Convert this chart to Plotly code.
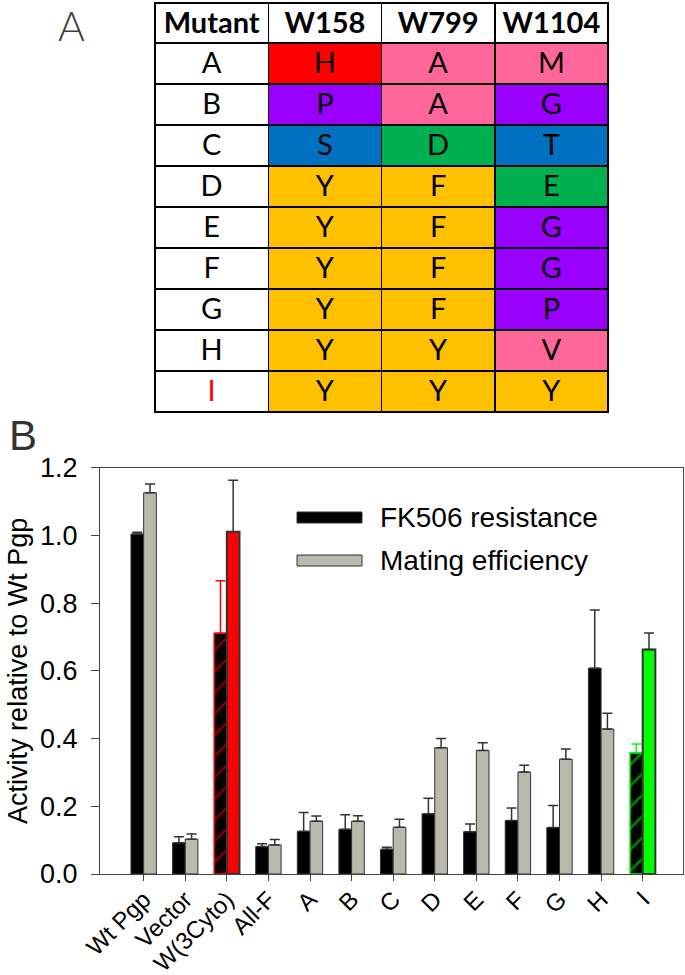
import plotly.graph_objects as go

# ---------------- Panel A data ----------------
mutants = ["A", "B", "C", "D", "E", "F", "G", "H", "I"]
w158 = ["H", "P", "S", "Y", "Y", "Y", "Y", "Y", "Y"]
w799 = ["A", "A", "D", "F", "F", "F", "F", "Y", "Y"]
w1104 = ["M", "G", "T", "E", "G", "G", "P", "V", "Y"]
table_header = ["Mutant", "W158", "W799", "W1104"]

# ---------------- Panel B data ----------------
categories = ["Wt Pgp", "Vector", "W(3Cyto)", "All-F", "A", "B", "C", "D", "E", "F", "G", "H", "I"]
fk506 = [1.004, 0.092, 0.711, 0.081, 0.126, 0.132, 0.073, 0.178, 0.125, 0.158, 0.137, 0.608, 0.358]
fk506_err = [0.005, 0.018, 0.155, 0.008, 0.056, 0.043, 0.006, 0.046, 0.023, 0.037, 0.065, 0.172, 0.026]
mating = [1.126, 0.103, 1.011, 0.086, 0.156, 0.156, 0.138, 0.373, 0.365, 0.301, 0.339, 0.428, 0.663]
mating_err = [0.026, 0.015, 0.152, 0.016, 0.015, 0.016, 0.024, 0.027, 0.023, 0.020, 0.030, 0.047, 0.049]
yticks = [0.0, 0.2, 0.4, 0.6, 0.8, 1.0, 1.2]

# ---------------- styles ----------------
res_color = {"H": "#FF0000", "A": "#FF6699", "M": "#FF6699", "V": "#FF6699",
             "P": "#9900FF", "G": "#9900FF", "S": "#0070C0", "T": "#0070C0",
             "D": "#00B050", "E": "#00B050", "Y": "#FFC000", "F": "#FFC000"}
BLACK = "#000000"
GRAY = "#b9b9ad"
EDGE = "#333333"
special = {"W(3Cyto)": "#FF0000", "I": "#00FF00"}

fig = go.Figure()

# Table (panel A)
fig.add_trace(go.Table(
    domain=dict(x=[(155 - 100) / 583, (608 - 100) / 583], y=[0.515, 1 - 3 / 874]),
    columnwidth=[1, 1, 1, 1],
    header=dict(values=table_header,
                fill_color="white", line=dict(color="black", width=1.5),
                align="center", height=40,
                font=dict(family="Lato", size=29, color="black", weight="bold")),
    cells=dict(values=[mutants, w158, w799, w1104],
               fill_color=[["white"] * len(mutants),
                           [res_color[r] for r in w158],
                           [res_color[r] for r in w799],
                           [res_color[r] for r in w1104]],
               line=dict(color="black", width=1.5),
               align="center", height=41,
               font=dict(family="Lato", size=29,
                         color=[["#FF0000" if m == "I" else "black" for m in mutants],
                                ["black"] * 9, ["black"] * 9, ["black"] * 9])),
))

# Bars (panel B)
idx_main = [i for i, c in enumerate(categories) if c not in special]
fig.add_trace(go.Bar(
    x=[categories[i] for i in idx_main], y=[fk506[i] for i in idx_main],
    offsetgroup="fk", name="FK506 resistance", showlegend=False,
    marker=dict(color=BLACK, line=dict(color=EDGE, width=1)),
    error_y=dict(type="data", symmetric=False,
                 array=[fk506_err[i] for i in idx_main], arrayminus=[0] * len(idx_main),
                 color=EDGE, thickness=1.5, width=5),
))
for cat, col in special.items():
    i = categories.index(cat)
    fig.add_trace(go.Bar(
        x=[cat], y=[fk506[i]], offsetgroup="fk", showlegend=False,
        marker=dict(color=BLACK, line=dict(color=col, width=1.5),
                    pattern=dict(shape="/", fgcolor=col, bgcolor=BLACK, size=15, solidity=0.18)),
        error_y=dict(type="data", symmetric=False, array=[fk506_err[i]], arrayminus=[0],
                     color=col, thickness=1.5, width=5),
    ))

fig.add_trace(go.Bar(
    x=categories, y=mating, offsetgroup="me", name="Mating efficiency", showlegend=False,
    marker=dict(color=[special.get(c, GRAY) for c in categories],
                line=dict(color=EDGE, width=[2 if c in special else 1 for c in categories])),
    error_y=dict(type="data", symmetric=False, array=mating_err, arrayminus=[0] * len(mating),
                 color=EDGE, thickness=1.5, width=5),
))

fig.update_layout(
    width=685, height=975,
    margin=dict(l=100, r=2, t=0, b=101),
    paper_bgcolor="white", plot_bgcolor="white",
    barmode="group", bargap=0.39, bargroupgap=0,
    font=dict(family="Liberation Sans, Arial", color="black"),
    showlegend=False,
    xaxis=dict(type="category", categoryorder="array", categoryarray=categories,
               range=[-1.05, 12.97], showline=True, linecolor="#444", linewidth=1,
               mirror=True, ticks="outside", ticklen=6, tickcolor="#444",
               tickangle=-45, tickfont=dict(size=24), ticklabelstandoff=-5,
               showgrid=False, automargin=False),
    yaxis=dict(domain=[0, 406.3 / 874], range=[0, 1.2], tickvals=yticks, tickformat=".1f",
               showline=True, linecolor="#444", linewidth=1, mirror=True,
               ticks="outside", ticklen=8, tickcolor="#444", tickfont=dict(size=27),
               ticklabelstandoff=8,
               showgrid=False, zeroline=False, automargin=False,
               title=dict(text="Activity relative to Wt Pgp", font=dict(size=27), standoff=4)),
)

# Legend drawn as swatches + text
legend_items = [("FK506 resistance", BLACK, 512, 523), ("Mating efficiency", GRAY, 555, 566)]
for label, col, top, bot in legend_items:
    fig.add_shape(type="rect", xref="paper", yref="paper",
                  x0=(297 - 100) / 583, x1=(362 - 100) / 583,
                  y0=1 - bot / 874, y1=1 - top / 874,
                  fillcolor=col, line=dict(color=EDGE, width=1))
    fig.add_annotation(text=label, xref="paper", yref="paper",
                       x=(378 - 100) / 583, y=1 - (top + bot) / 2 / 874,
                       xanchor="left", yanchor="middle", showarrow=False,
                       font=dict(size=28, color="black"))

# Panel labels
fig.add_annotation(text="A", xref="paper", yref="paper", x=(71 - 100) / 583, y=1,
                   xanchor="center", yanchor="top", showarrow=False, borderpad=0,
                   font=dict(family="Lato", size=41, color="#404040", weight=300))
fig.add_annotation(text="B", xref="paper", yref="paper", x=(23 - 100) / 583, y=1 - 435 / 874,
                   xanchor="center", yanchor="middle", showarrow=False,
                   font=dict(size=42, color="#333333"))

fig.write_html("out.html", config={"displayModeBar": False},
               post_script="document.body.style.margin='0px';")
